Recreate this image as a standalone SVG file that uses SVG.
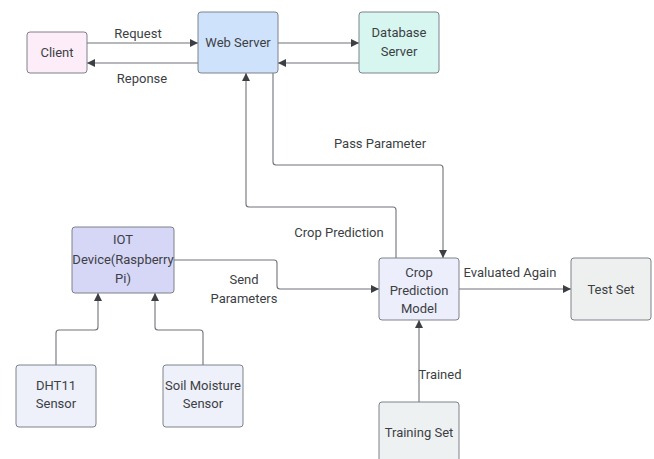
<svg xmlns="http://www.w3.org/2000/svg" width="654" height="459" viewBox="0 0 654 459">
  <style>
    .box { stroke: #7d828a; stroke-width: 1; }
    .lbl { font-family: Roboto, "Liberation Sans", sans-serif; font-size: 13px; fill: #3c3f44; text-anchor: middle; }
    .edge { fill: none; stroke: #6f737a; stroke-width: 1.1; }
  </style>
  <defs>
    <marker id="arrow" viewBox="0 0 10 10" refX="10" refY="5" markerWidth="8" markerHeight="8" markerUnits="userSpaceOnUse" orient="auto">
      <path d="M0,0 L10,5 L0,10 z" fill="#3c3f44"/>
    </marker>
  </defs>
  <rect width="654" height="459" fill="#ffffff"/>

  <g id="connectors">
    <path class="edge" d="M87,43 H198" marker-end="url(#arrow)"/>
    <path class="edge" d="M198,63 H87" marker-end="url(#arrow)"/>
    <path class="edge" d="M278,43 H359" marker-end="url(#arrow)"/>
    <path class="edge" d="M359,63 H278" marker-end="url(#arrow)"/>
    <path class="edge" d="M273,73 V162 Q273,165 276,165 H440 Q443,165 443,168 V258" marker-end="url(#arrow)"/>
    <path class="edge" d="M396,258 V210 Q396,207 393,207 H249 Q246,207 246,204 V73" marker-end="url(#arrow)"/>
    <path class="edge" d="M174,260 H274 Q277,260 277,263 V286 Q277,289 280,289 H379" marker-end="url(#arrow)"/>
    <path class="edge" d="M459,289 H571" marker-end="url(#arrow)"/>
    <path class="edge" d="M419,402 V320" marker-end="url(#arrow)"/>
    <path class="edge" d="M56,365 V333 Q56,330 59,330 H95 Q98,330 98,327 V293" marker-end="url(#arrow)"/>
    <path class="edge" d="M203,365 V333 Q203,330 200,330 H158 Q155,330 155,327 V293" marker-end="url(#arrow)"/>
    <text class="lbl" x="138" y="38">Request</text>
    <text class="lbl" x="142" y="83">Reponse</text>
    <text class="lbl" x="380" y="148">Pass Parameter</text>
    <text class="lbl" x="339" y="237">Crop Prediction</text>
    <text class="lbl" x="244" y="284">Send</text>
    <text class="lbl" x="244" y="303">Parameters</text>
    <text class="lbl" x="510" y="277">Evaluated Again</text>
    <text class="lbl" x="440" y="379">Trained</text>
  </g>

  <g id="client">
    <rect class="box" x="27" y="32" width="60" height="41" rx="3" fill="#fcedf9"/>
    <text class="lbl" x="57" y="57">Client</text>
  </g>
  <g id="web-server">
    <rect class="box" x="198" y="12" width="80" height="61" rx="3" fill="#cfe2fb"/>
    <text class="lbl" x="238" y="47">Web Server</text>
  </g>
  <g id="database-server">
    <rect class="box" x="359" y="12" width="80" height="61" rx="3" fill="#d7f6f0"/>
    <text class="lbl" x="399" y="37">Database</text>
    <text class="lbl" x="399" y="56">Server</text>
  </g>
  <g id="iot-device">
    <rect class="box" x="72" y="227" width="102" height="66" rx="3" fill="#d6d6f7"/>
    <text class="lbl" x="123" y="244">IOT</text>
    <text class="lbl" x="123" y="264">Device(Raspberry</text>
    <text class="lbl" x="123" y="283">Pi)</text>
  </g>
  <g id="crop-prediction-model">
    <rect class="box" x="379" y="258" width="80" height="62" rx="3" fill="#eceefb"/>
    <text class="lbl" x="419" y="277">Crop</text>
    <text class="lbl" x="419" y="295">Prediction</text>
    <text class="lbl" x="419" y="313">Model</text>
  </g>
  <g id="test-set">
    <rect class="box" x="571" y="258" width="80" height="62" rx="3" fill="#eef0f0"/>
    <text class="lbl" x="611" y="294">Test Set</text>
  </g>
  <g id="training-set">
    <rect class="box" x="379" y="402" width="80" height="62" rx="3" fill="#eef1f2"/>
    <text class="lbl" x="419" y="437">Training Set</text>
  </g>
  <g id="dht11-sensor">
    <rect class="box" x="16" y="365" width="80" height="62" rx="3" fill="#eef0fa"/>
    <text class="lbl" x="56" y="390">DHT11</text>
    <text class="lbl" x="56" y="408">Sensor</text>
  </g>
  <g id="soil-moisture-sensor">
    <rect class="box" x="163" y="365" width="80" height="62" rx="3" fill="#eef0fa"/>
    <text class="lbl" x="203" y="390">Soil Moisture</text>
    <text class="lbl" x="203" y="408">Sensor</text>
  </g>
</svg>
